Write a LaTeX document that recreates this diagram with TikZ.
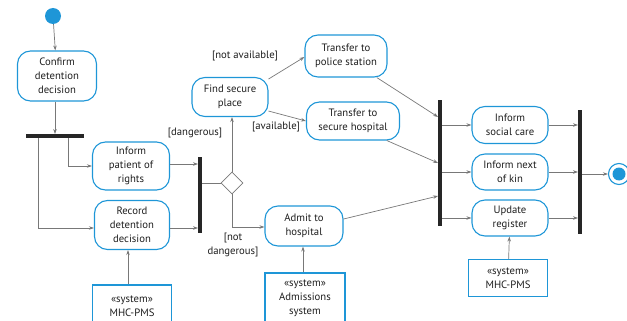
\documentclass[tikz,border=0pt]{standalone}
\usepackage{fontspec}
\setmainfont{PT Sans}
\usetikzlibrary{shapes.geometric,arrows.meta}
\definecolor{umlblue}{RGB}{30,150,215}
\definecolor{umlgray}{RGB}{120,120,120}
\definecolor{umltext}{RGB}{30,30,30}

\begin{document}
\begin{tikzpicture}[x=1pt,y=-1pt,
  every node/.style={text=umltext, font=\fontsize{10.7}{14}\selectfont},
  action/.style={draw=umlblue, line width=1.1pt, rounded corners=13pt, align=center, inner sep=1pt},
  sysbox/.style={draw=umlblue, line width=1.1pt, align=center, inner sep=1pt},
  flow/.style={draw=umlgray, line width=0.7pt, -{Stealth[length=5pt,width=3.5pt]}},
  line/.style={draw=umlgray, line width=0.7pt},
  hbar/.style={fill=black!85, inner sep=0pt, minimum height=3.5pt},
  vbar/.style={fill=black!85, inner sep=0pt, minimum width=3.5pt},
  guard/.style={align=center}]

\useasboundingbox (0,0) rectangle (627,321);
\clip (0,0) rectangle (627,321);

% noeuds initial et final
\node[circle, fill=umlblue, minimum size=16pt, inner sep=0pt] (start) at (53,16) {};
\node[circle, draw=umlblue, line width=1.1pt, minimum size=21pt, inner sep=0pt,
  path picture={\fill[umlblue] (path picture bounding box.center) circle (6.5pt);}] (stop) at (619,174) {};

% les actions
\node[action, minimum width=79pt, minimum height=50pt] (confirm) at (57,76) {Confirm\\detention\\decision};
\node[action, minimum width=77pt, minimum height=48pt] (inform) at (131,166) {Inform\\patient of\\rights};
\node[action, minimum width=75pt, minimum height=49pt] (record) at (132,225) {Record\\detention\\decision};
\node[action, minimum width=76pt, minimum height=39pt] (find) at (230,97) {Find secure\\place};
\node[action, minimum width=82pt, minimum height=42pt] (police) at (346,56) {Transfer to\\police station};
\node[action, minimum width=93pt, minimum height=38pt] (secure) at (353,121) {Transfer to\\secure hospital};
\node[action, minimum width=78pt, minimum height=40pt] (admit) at (304,226) {Admit to\\hospital};
\node[action, minimum width=76pt, minimum height=37pt] (social) at (510,125) {Inform\\social care};
\node[action, minimum width=76pt, minimum height=36pt] (kin) at (510,172) {Inform next\\of kin};
\node[action, minimum width=76pt, minimum height=36pt] (update) at (510,218) {Update\\register};

% les systemes
\node[sysbox, minimum width=79pt, minimum height=42pt] (pmsA) at (132,306) {«system»\\MHC-PMS};
\node[sysbox, minimum width=80pt, minimum height=50pt] (adm) at (305,298) {«system»\\Admissions\\system};
\node[sysbox, minimum width=79pt, minimum height=37pt] (pmsB) at (508,278) {«system»\\MHC-PMS};

% barres et decision
\node[hbar, minimum width=58pt] (fork) at (55,136) {};
\node[vbar, minimum height=76pt] (joinA) at (200,195) {};
\node[vbar, minimum height=125pt] (joinB) at (440,163) {};
\node[vbar, minimum height=124pt] (joinC) at (580,172) {};
\node[diamond, draw=umlgray, line width=0.7pt, minimum size=22pt, inner sep=0pt] (decide) at (232,183) {};

% les fleches
\draw[flow] (start) -- (confirm);
\draw[flow] (confirm.south -| fork) -- (fork.north);
\draw[flow] ([xshift=13pt]fork.south) |- (inform);
\draw[flow] ([xshift=-17pt]fork.south) |- ([yshift=-3pt]record.west);
\draw[flow] (pmsA.north -| 128,0) -- (record.south -| 128,0);
\draw[flow] ([yshift=2pt]inform.east) -- ([yshift=2pt]inform.east -| joinA.west);
\draw[flow] ([yshift=-3pt]record.east) -- ([yshift=-3pt]record.east -| joinA.west);
\draw[line] (decide.west -| joinA.east) -- (decide.west);
\draw[flow] (decide.north) -- (decide.north |- find.south);
\draw[flow] (decide.south) |- ([yshift=-1pt]admit.west);
\draw[flow] (find.25) -- ([yshift=-1pt]police.west);
\draw[flow] (find.-20) -- (secure.west);
\draw[flow] (adm.north -| 303,0) -- (admit.south -| 303,0);
\draw[flow] (police.-35) -- ([yshift=46pt]joinB.west);
\draw[flow] (secure.-30) -- (joinB.west);
\draw[flow] (admit.10) -- ([yshift=-33pt]joinB.west);
\draw[flow] (joinB.east |- social) -- (social);
\draw[flow] (joinB.east |- kin) -- (kin);
\draw[flow] (joinB.east |- update) -- (update);
\draw[flow] (pmsB) -- (update);
\draw[flow] (social) -- (social -| joinC.west);
\draw[flow] (kin) -- (kin -| joinC.west);
\draw[flow] (update) -- (update -| joinC.west);
\draw[flow] (joinC.east |- stop) -- (stop);

% les gardes
\node[guard] (gNotAvail) at (245,56) {[not available]};
\node[guard] (gAvail) at (276,127) {[available]};
\node[guard] (gDanger) at (195,133) {[dangerous]};
\node[guard] (gNotDanger) at (233,245) {[not\\dangerous]};

\end{tikzpicture}
\end{document}
